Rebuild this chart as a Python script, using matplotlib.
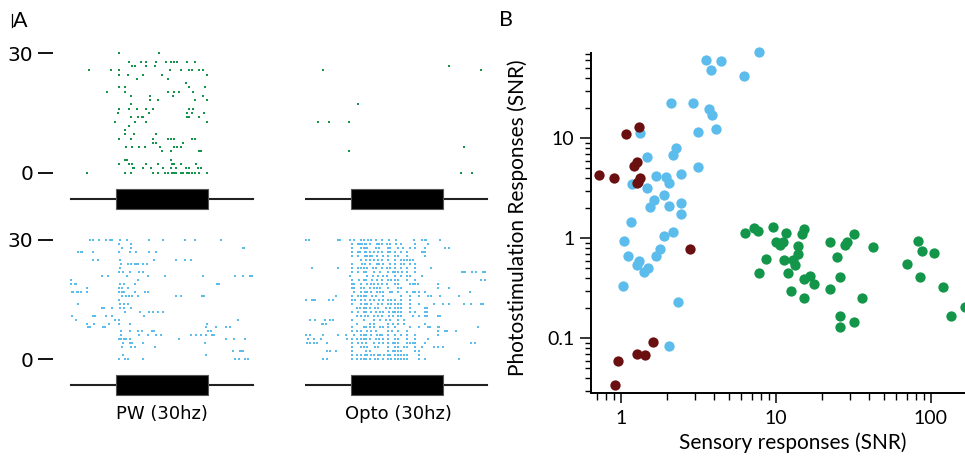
import matplotlib
matplotlib.use('Agg')
import matplotlib.pyplot as plt
from matplotlib.patches import Rectangle
from matplotlib.lines import Line2D
from matplotlib.ticker import FuncFormatter, LogLocator, NullFormatter

# ---- panel A: spike times (s) per trial, trial 0 first ----
pw_sens = [
    [-0.31, 0.10, 0.17, 0.40, 0.46, 0.53, 0.56, 0.61, 0.63, 0.64, 0.65, 0.70, 0.73, 0.77, 0.79, 0.82, 0.86, 0.90, 0.99],
    [0.19, 0.20, 0.30, 0.38, 0.51, 0.60, 0.65, 0.76, 0.79, 0.89, 0.92],
    [0.04, 0.14, 0.18, 0.33, 0.46, 0.61, 0.63, 0.70, 0.87],
    [0.10, 0.12, 0.60],
    [],
    [0.50, 0.60, 0.90, 0.92],
    [0.11, 0.18, 0.25, 0.32, 0.48, 0.63, 0.66, 0.70],
    [0.40, 0.43, 0.73],
    [0.04, 0.17, 0.40, 0.57, 0.60, 0.63, 0.82, 0.86],
    [0.10, 0.20, 0.43],
    [0.10],
    [0.14],
    [-0.01, 0.21, 0.33, 0.99],
    [0.17, 0.24, 0.28, 0.30, 0.77, 0.79, 0.90],
    [0.03, 0.36, 0.77, 0.82, 0.95],
    [0.04, 0.14, 0.23, 0.33, 0.40, 0.79, 0.83],
    [0.17],
    [0.37, 0.46, 0.86, 0.99],
    [0.17, 0.37, 0.62, 0.94],
    [-0.09, 0.10, 0.57, 0.63, 0.68, 0.83],
    [0.04, 0.10, 0.79, 0.96],
    [0.76],
    [0.23, 0.56],
    [0.04, 0.13, 0.30, 0.50, 0.99],
    [-0.29, -0.05, 0.04, 0.59, 0.71, 0.79, 0.82, 0.90, 0.94],
    [0.18, 0.21, 0.33, 0.42],
    [0.14, 0.27, 0.33, 0.44, 0.54, 0.60, 0.63, 0.66, 0.77, 0.86],
    [],
    [0.04, 0.47],
]

opto_sens = [[1.19, 1.31], [], [], [], [], [-0.02], [1.23], [], [], [], [], [],
             [-0.35, -0.24, -0.02], [], [], [], [0.08], [], [], [], [], [], [], [],
             [-0.30, 1.41], [1.06], [], [], []]

pw_photo = [
    [0.04, 0.10, 0.13, 0.30, 1.29, 1.33, 1.40, 1.43],
    [0.08, 0.97],
    [1.27, 1.34, 1.36, 1.38],
    [0.07, 0.17, 0.21, 0.42],
    [0.08, 0.15, 0.18, 0.29, 0.96],
    [0.04, 0.06, 0.09, 0.11, 0.15, 0.68, 1.19, 1.28, 1.40],
    [0.06, 0.25, 0.35, 0.43, 0.49, 0.81, 0.87, 0.92, 0.97, 1.04, 1.06],
    [0.06, 0.15, 0.24, 0.28, 0.39, 0.41, 1.00, 1.03],
    [-0.30, -0.28, -0.14, -0.12, 0.97, 1.08, 1.19, 1.23],
    [-0.31, -0.23, -0.07, 0.04, 0.15, 0.99],
    [-0.43, -0.01, 0.04, 1.32],
    [-0.47, -0.24, -0.22, -0.11, -0.04, 0.31],
    [0.10, 0.26, 0.36, 0.40, 0.46, 0.51],
    [-0.15, -0.13, -0.04, 0.05, 0.09, 0.17],
    [-0.41, 0.05, 0.09, 0.13],
    [0.04],
    [0.07, 0.11, 0.14, 0.18, 0.24, 0.65, 0.71, 0.93, 0.95],
    [-0.47, -0.46, -0.42, -0.41, -0.37, -0.31, 0.04, 0.07, 0.09, 0.21, 0.32, 0.35],
    [-0.31, 0.04, 0.07, 0.13],
    [-0.48, -0.44, -0.43, 0.05, 0.09, 0.21, 1.09, 1.12],
    [-0.48, 0.24],
    [-0.15, -0.08, 0.12, 0.35, 0.53, 0.94, 1.29, 1.37, 1.45, 1.47],
    [0.04, 0.08, 0.15, 0.25, 0.30],
    [0.05],
    [0.06, 0.13, 0.17, 0.21, 0.22, 0.24, 0.29, 0.34],
    [-0.24, -0.19, 0.05, 0.41, 0.65, 0.75, 0.81],
    [],
    [-0.41, -0.37, -0.36, -0.25, 0.04, 0.15, 0.22, 0.36, 0.43],
    [0.07, 0.16, 0.17, 1.37, 1.39],
    [0.04, 0.16],
    [-0.28, -0.25, -0.18, -0.11, -0.06, -0.04, 0.05, 0.12, 0.36, 0.51, 0.75, 0.86, 1.14],
]

opto_photo = [
    [-0.30, -0.26, 0.01, 0.07, 0.11, 0.14, 0.17, 0.21, 0.26, 0.30, 0.35, 0.40, 0.44, 0.48, 0.51, 0.54, 0.58, 0.61, 0.74, 0.80, 1.17],
    [0.01, 0.07, 0.11, 0.15, 0.18, 0.22, 0.25, 0.29, 0.32, 0.36, 0.40, 0.43, 0.48, 0.51, 0.54, 0.58, 0.61, 0.74],
    [-0.26, -0.22, -0.16, 0.01, 0.17, 0.21, 0.40, 0.46, 0.48, 0.51, 0.54, 0.70, 0.74],
    [0.01, 0.11, 0.14, 0.18, 0.26, 0.30, 0.40, 0.48, 0.51, 0.58, 0.61, 0.70, 0.77, 0.90, 0.94, 1.00],
    [-0.47, -0.44, -0.40, -0.37, -0.26, 0.01, 0.08, 0.12, 0.17, 0.25, 0.31, 0.35, 0.40, 0.46, 0.48, 0.51, 0.61, 0.64, 0.67, 0.70, 0.80, 1.30, 1.35],
    [-0.46, -0.40, -0.32, -0.04, 0.01, 0.07, 0.11, 0.14, 0.17, 0.21, 0.27, 0.31, 0.35, 0.40, 0.48, 0.51, 0.61, 0.70, 0.84],
    [-0.48, -0.44, -0.30, -0.14, -0.05, 0.03, 0.11, 0.14, 0.17, 0.22, 0.28, 0.32, 0.34, 0.40, 0.48, 0.54, 0.61, 0.70, 0.94],
    [0.01, 0.07, 0.11, 0.18, 0.22, 0.27, 0.40, 0.45, 0.51, 0.61, 0.94, 1.02, 1.04, 1.14],
    [0.01, 0.14, 0.17, 0.21, 0.25, 0.32, 0.35, 0.40, 0.48, 0.64, 0.74, 0.84, 0.86, 0.94, 0.95, 1.38],
    [-0.31, -0.30, -0.27, 0.07, 0.21, 0.25, 0.40, 0.46, 0.51, 0.58, 0.80],
    [-0.44, -0.39, -0.28, -0.22, -0.19, 0.01, 0.14, 0.25, 0.32, 0.38, 0.43, 0.51, 0.58],
    [0.07, 0.11, 0.15, 0.19, 0.25, 0.30, 0.34, 0.41, 0.46, 0.51, 0.54, 0.67, 0.74, 0.80, 0.82, 0.94, 0.97],
    [0.01, 0.08, 0.14, 0.17, 0.22, 0.27, 0.32, 0.35, 0.41, 0.46, 0.48, 0.51, 0.54, 0.64, 0.70, 0.80, 0.82],
    [0.07, 0.10, 0.14, 0.17, 0.21, 0.26, 0.30, 0.38, 0.43, 0.48, 0.51, 0.54, 0.64, 0.80, 0.82],
    [0.01, 0.11, 0.15, 0.18, 0.22, 0.29, 0.34, 0.40, 0.44, 0.48, 0.51, 0.54, 0.64, 0.74, 0.90, 1.00, 1.06, 1.23, 1.30, 1.41, 1.43],
    [-0.48, -0.42, -0.40, -0.39, -0.24, -0.19, 0.01, 0.05, 0.11, 0.15, 0.21, 0.25, 0.31, 0.35, 0.40, 0.44, 0.48, 0.54, 0.64],
    [-0.16, 0.01, 0.08, 0.11, 0.14, 0.17, 0.23, 0.27, 0.35, 0.54, 0.64, 0.74, 0.84, 0.87, 0.97, 1.17],
    [0.03, 0.11, 0.15, 0.18, 0.22, 0.28, 0.32, 0.35, 0.43, 0.45, 0.51, 0.61, 0.67, 0.70, 0.74, 0.80, 1.29],
    [0.01, 0.03, 0.11, 0.14, 0.21, 0.25, 0.28, 0.32, 0.40, 0.51, 0.54, 0.94, 1.06],
    [0.01, 0.04, 0.11, 0.18, 0.22, 0.25, 0.30, 0.34, 0.39, 0.48, 0.51, 0.64, 0.67, 0.70, 0.73, 0.94],
    [0.01, 0.09, 0.14, 0.17, 0.23, 0.28, 0.34, 0.40, 0.44, 0.48, 0.51, 0.61, 0.70, 1.41, 1.45],
    [-0.01, 0.18, 0.24, 0.29, 0.35, 0.39, 0.48, 0.54, 0.61, 0.64, 0.77],
    [0.01, 0.08, 0.14, 0.17, 0.25, 0.32, 0.40, 0.46, 0.48, 0.51, 0.55, 0.61, 0.70, 1.20, 1.22, 1.24, 1.31, 1.36, 1.43, 1.45],
    [-0.42, -0.14, 0.01, 0.08, 0.11, 0.14, 0.18, 0.24, 0.27, 0.34, 0.39, 0.43, 0.48, 0.54, 0.61, 0.70, 0.87],
    [0.01, 0.12, 0.15, 0.21, 0.28, 0.31, 0.35, 0.43, 0.48, 0.54, 0.58, 0.64, 0.70],
    [0.11, 0.17, 0.21, 0.25, 0.30, 0.34, 0.40, 0.48, 0.54, 0.58, 0.61, 0.64, 0.67],
    [0.01, 0.08, 0.15, 0.18, 0.21, 0.23, 0.28, 0.35, 0.40, 0.48, 0.51, 0.61, 0.80],
    [0.01, 0.08, 0.10, 0.15, 0.17, 0.21, 0.25, 0.30, 0.34, 0.40, 0.43, 0.48, 0.54, 0.61, 0.77, 0.79, 0.80],
    [0.01, 0.11, 0.14, 0.16, 0.18, 0.27, 0.31, 0.40, 0.43, 0.51, 0.57, 0.64, 0.70, 0.80, 1.02, 1.06],
    [0.01, 0.08, 0.10, 0.12, 0.15, 0.17, 0.21, 0.28, 0.31, 0.34, 0.39, 0.43, 0.49, 0.54, 0.70, 0.84],
    [-0.49, -0.45, -0.14, -0.12, -0.01, 0.03, 0.11, 0.14, 0.19, 0.22, 0.27, 0.34, 0.41, 0.49, 0.68, 0.77, 0.80, 0.81, 0.97],
]

stim_on, stim_off = 0.0, 1.0
trace_start, trace_end = -0.48, 1.48

# ---- panel B: SNR per cell ----
blue_x = [7.84, 3.57, 4.44, 3.81, 6.22, 2.12, 2.94, 3.70, 3.88, 4.14, 3.15, 1.33, 2.28, 2.17,
          1.47, 3.15, 2.46, 1.70, 1.97, 2.04, 1.19, 1.48, 1.91, 1.63, 1.55, 2.06, 2.43, 2.43,
          1.16, 2.16, 1.89, 1.05, 1.11, 1.79, 1.70, 1.32, 1.27, 1.51, 1.42, 1.03, 2.33, 2.05]
blue_y = [73.5, 61.1, 59.3, 48.5, 42.3, 22.7, 22.7, 19.5, 17.1, 12.5, 11.6, 11.2, 8.0, 6.8,
          6.5, 5.13, 4.43, 4.23, 4.13, 3.6, 3.47, 3.18, 2.73, 2.42, 2.07, 2.12, 2.25, 1.76,
          1.46, 1.17, 1.05, 0.946, 0.67, 0.79, 0.665, 0.60, 0.54, 0.50, 0.46, 0.33, 0.232, 0.0838]

red_x = [0.72, 0.90, 1.08, 1.32, 1.27, 1.22, 1.33, 1.30, 1.27, 2.80, 1.62, 1.27, 1.43, 0.965, 0.92]
red_y = [4.33, 4.01, 10.96, 12.9, 5.83, 5.32, 4.01, 3.66, 3.55, 0.79, 0.0925, 0.069, 0.0676, 0.0593, 0.034]

green_x = [6.37, 7.28, 7.7, 9.57, 11.6, 15.2, 14.7, 32.0, 10.0, 11.1, 10.7, 14.0, 22.2, 28.7,
           27.8, 42.6, 14.0, 24.9, 8.62, 11.3, 13.0, 13.2, 7.8, 12.0, 16.6, 15.1, 17.7, 26.1,
           12.6, 22.2, 15.1, 36.2, 26.1, 26.1, 32.0, 70.0, 82.8, 88.3, 105, 85.3, 119, 134, 166]
green_y = [1.12, 1.28, 1.18, 1.29, 1.12, 1.23, 1.10, 1.10, 0.92, 0.92, 0.857, 0.84, 0.92, 0.925,
           0.857, 0.824, 0.697, 0.655, 0.617, 0.607, 0.607, 0.54, 0.447, 0.447, 0.423, 0.395, 0.347, 0.407,
           0.299, 0.311, 0.251, 0.251, 0.167, 0.129, 0.145, 0.553, 0.946, 0.741, 0.713, 0.413, 0.328, 0.167, 0.207]

GREEN = '#14964a'
BLUE = '#5cbceb'
DARKRED = '#6b1010'

W, H = 965, 457
fig = plt.figure(figsize=(W / 100, H / 100), dpi=100)


def px_axes(x0, y0, x1, y1):
    return fig.add_axes([x0 / W, 1 - y1 / H, (x1 - x0) / W, (y1 - y0) / H])


def raster(ax, rows, color, ticks=None):
    xs, ys = [], []
    for trial, times in enumerate(rows):
        xs += times
        ys += [trial] * len(times)
    ax.scatter(xs, ys, s=3.5, marker='s', color=color, linewidths=0)
    ax.set_xlim(-0.5, 1.5)
    ax.set_ylim(-0.5, len(rows) - 0.5)
    ax.set_xticks([])
    for s in ['top', 'right', 'bottom']:
        ax.spines[s].set_visible(False)
    if ticks is None:
        ax.spines['left'].set_visible(False)
        ax.set_yticks([])
    else:
        ax.spines['left'].set_position(('outward', 12))
        ax.spines['left'].set_color('none')
        ax.set_yticks([0, len(rows) - 1], ticks)
        ax.tick_params(axis='y', length=11, width=1.3, pad=3, labelsize=14.5)


def stim(ax):
    ax.plot([trace_start, trace_end], [0.5, 0.5], color='#222222', lw=1.5)
    ax.add_patch(Rectangle((stim_on, 0.1), stim_off - stim_on, 0.8,
                           facecolor='black', edgecolor='#555555', lw=0.8, zorder=3))
    ax.set_xlim(-0.5, 1.5)
    ax.set_ylim(0, 1)
    ax.axis('off')


raster(px_axes(69.4, 51.2, 254.6, 174.8), pw_sens, GREEN, ['0', '30'])
raster(px_axes(304.6, 51.2, 489.3, 174.8), opto_sens, GREEN)
raster(px_axes(69.4, 238.0, 254.6, 361.3), pw_photo, BLUE, ['0', '30'])
raster(px_axes(304.6, 238.0, 489.3, 361.3), opto_photo, BLUE)

stim(px_axes(69.4, 186, 254.6, 212))
stim(px_axes(304.6, 186, 489.3, 212))
stim(px_axes(69.4, 372, 254.6, 397))
stim(px_axes(304.6, 372, 489.3, 397))

fig.text(161.7 / W, 1 - 414 / H, 'PW (30hz)', ha='center', va='center', fontsize=13)
fig.text(398 / W, 1 - 414 / H, 'Opto (30hz)', ha='center', va='center', fontsize=13)

fig.text(13 / W, 1 - 21 / H, 'A', ha='left', va='center', fontsize=15.5, family='Lato')
fig.add_artist(Line2D([11.8 / W, 11.8 / W], [1 - 14 / H, 1 - 27 / H], color='black', lw=0.9))
fig.text(499 / W, 1 - 20 / H, 'B', ha='left', va='center', fontsize=15.5, family='Lato')

# ---- panel B ----
ax = px_axes(591, 52.7, 965, 393)
ax.scatter(blue_x, blue_y, s=55, color=BLUE, linewidths=0, zorder=3, clip_on=False)
ax.scatter(green_x, green_y, s=55, color=GREEN, linewidths=0, zorder=3, clip_on=False)
ax.scatter(red_x, red_y, s=55, color=DARKRED, linewidths=0, zorder=4, clip_on=False)
ax.set_xscale('log')
ax.set_yscale('log')
ax.set_xlim(0.643, 166)
ax.set_ylim(0.0284, 71.8)
for s in ['top', 'right']:
    ax.spines[s].set_visible(False)
for s in ['left', 'bottom']:
    ax.spines[s].set_linewidth(1.4)
fmt = FuncFormatter(lambda v, _: f'{v:g}')
for axis in [ax.xaxis, ax.yaxis]:
    axis.set_major_locator(LogLocator(base=10))
    axis.set_minor_locator(LogLocator(base=10, subs=range(2, 10)))
    axis.set_major_formatter(fmt)
    axis.set_minor_formatter(NullFormatter())
ax.tick_params(which='major', axis='y', length=8, width=1.1, pad=4, labelsize=14)
ax.tick_params(which='minor', axis='y', length=4.5, width=1.0)
ax.tick_params(which='major', axis='x', length=7, width=1.1, pad=5, labelsize=14)
ax.tick_params(which='minor', axis='x', length=5, width=1.0)
for lab in ax.get_xticklabels() + ax.get_yticklabels():
    lab.set_family('Lato')
ax.set_xlabel('Sensory responses (SNR)', fontsize=15, family='Lato')
ax.set_ylabel('Photostimulation Responses (SNR)', fontsize=15, family='Lato')
ax.xaxis.set_label_coords(0.54, -0.115)
ax.yaxis.set_label_coords(-0.168, 0.514)

fig.savefig('out.png', dpi=100)
